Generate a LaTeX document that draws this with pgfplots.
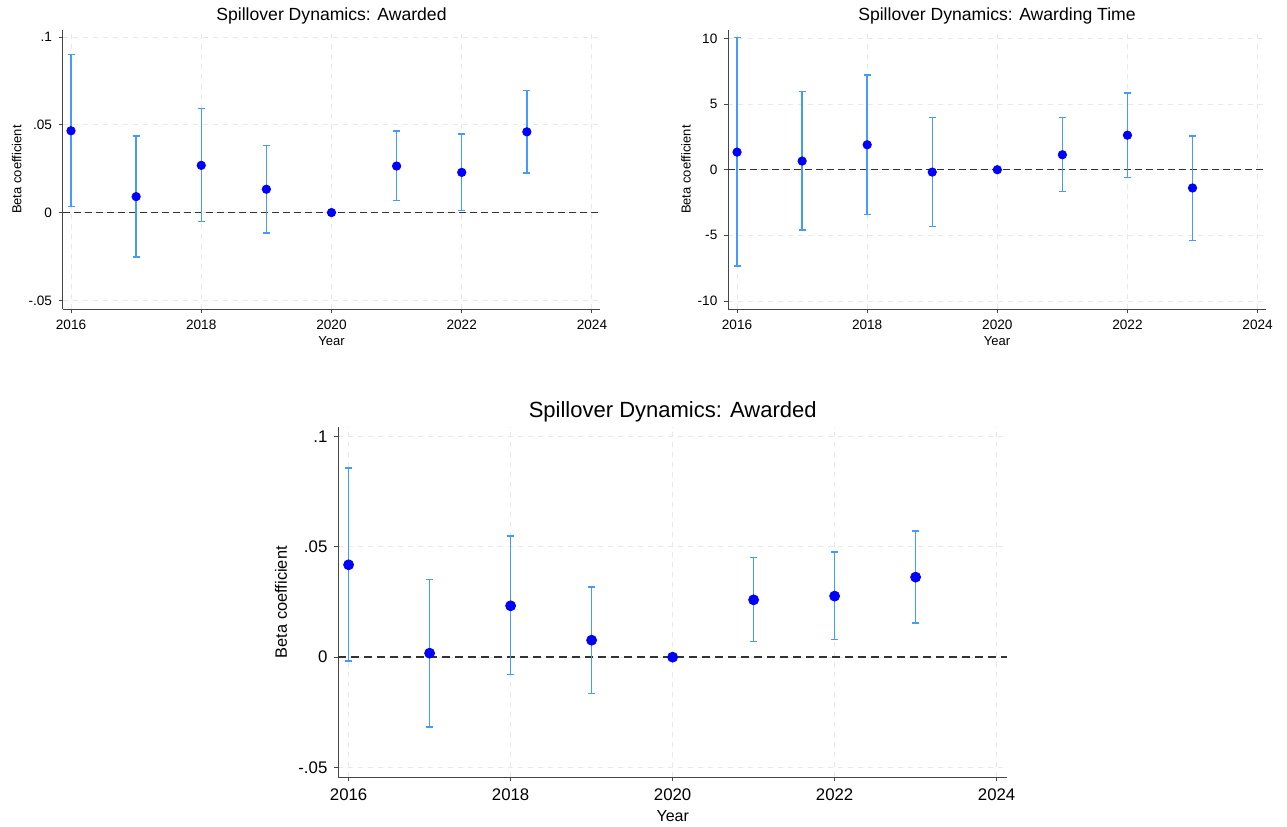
\documentclass[border=0pt]{standalone}
\usepackage{pgfplots}
\pgfplotsset{compat=1.18}
\usepackage{pgfplotstable}
\usepackage{fontspec}
\setmainfont{Liberation Sans}
\definecolor{ebc}{RGB}{70,155,250}
\definecolor{mk}{RGB}{0,0,255}
\definecolor{axc}{RGB}{70,70,70}
\definecolor{grc}{RGB}{232,232,232}

\pgfplotstableread{
year b lo hi
2016 0.0466 0.0034 0.0902
2017 0.0091 -0.0252 0.0436
2018 0.0269 -0.0051 0.0593
2019 0.0133 -0.0116 0.0383
2020 0 0 0
2021 0.0265 0.0070 0.0464
2022 0.0229 0.0013 0.0447
2023 0.0460 0.0225 0.0697
}\tA
\pgfplotstableread{
year b lo hi
2016 1.34 -7.32 10.08
2017 0.66 -4.58 5.97
2018 1.90 -3.42 7.22
2019 -0.18 -4.33 4.00
2020 0 0 0
2021 1.14 -1.65 3.97
2022 2.63 -0.58 5.85
2023 -1.39 -5.37 2.56
}\tB
\pgfplotstableread{
year b lo hi
2016 0.0419 -0.0018 0.0858
2017 0.0018 -0.0316 0.0352
2018 0.0233 -0.0079 0.0549
2019 0.0077 -0.0165 0.0319
2020 0 0 0
2021 0.0260 0.0071 0.0452
2022 0.0277 0.0080 0.0477
2023 0.0363 0.0156 0.0573
}\tC

\pgfplotsset{
  stata/.style={
    scale only axis,
    axis x line*=bottom, axis y line*=left,
    axis line style={-, draw=axc, line width=0.5pt},
    tick align=outside,
    major tick length=2pt,
    tick style={draw=axc, line width=0.5pt},
    x tick label style={/pgf/number format/1000 sep={}},
    /pgf/number format/assume math mode=true,
    xtick={2016,2018,2020,2022,2024},
    xticklabels={2016,2018,2020,2022,2024},
    grid=major,
    major grid style={draw=grc, line width=0.5pt, dash pattern=on 2.5pt off 2.5pt},
    title style={anchor=center},
    ylabel style={rotate=0, anchor=center},
    xlabel style={anchor=center},
    clip=false,
  },
}

\begin{document}
\begin{tikzpicture}
\path[use as bounding box] (0,0) rectangle (643.5pt,-413pt);

% ---------- Panel 1 ----------
\begin{axis}[stata,
  at={(31.5pt,-154.65pt)}, anchor=south west,
  width=268.5pt, height=139.65pt,
  xmin=2015.877, xmax=2024.123,
  ymin=-0.0551, ymax=0.104,
  ytick={-0.05,0,0.05,0.1},
  yticklabels={-.05,0,.05,.1},
  tick label style={font=\fontsize{6.8}{8}\selectfont},
  title={Spillover Dynamics: Awarded},
  title style={at={(axis description cs:0.5,1)}, yshift=1pt, font=\fontsize{8.8}{10}\selectfont},
  xlabel={Year},
  xlabel style={at={(axis description cs:0.5,-0.1124)}, font=\fontsize{6.5}{8}\selectfont},
  ylabel={Beta coefficient},
  ylabel style={at={(axis description cs:-0.0864,0.5)}, font=\fontsize{6.5}{8}\selectfont},
]
\addplot[draw=black!80, line width=0.6pt, dash pattern=on 3.5pt off 2pt, forget plot] coordinates {(2015.877,0) (2024.123,0)};
\addplot[draw=none, mark=none, forget plot, skip coords between index={4}{5},
  error bars/.cd, y dir=both, y explicit,
  error bar style={draw=ebc, solid, line width=0.7pt},
  error mark options={draw=ebc, rotate=90, mark size=1.75pt, line width=0.7pt, solid}]
  table[x=year, y=b, y error plus expr=\thisrow{hi}-\thisrow{b}, y error minus expr=\thisrow{b}-\thisrow{lo}] {\tA};
\addplot[only marks, mark=*, mark size=2.1pt, mark options={draw=mk, fill=mk}] table[x=year, y=b] {\tA};
\end{axis}

% ---------- Panel 2 ----------
\begin{axis}[stata,
  at={(364.2pt,-154.65pt)}, anchor=south west,
  width=268.6pt, height=139.65pt,
  xmin=2015.867, xmax=2024.123,
  ymin=-10.63, ymax=10.64,
  ytick={-10,-5,0,5,10},
  yticklabels={-10,-5,0,5,10},
  tick label style={font=\fontsize{6.8}{8}\selectfont},
  title={Spillover Dynamics: Awarding Time},
  title style={at={(axis description cs:0.5,1)}, yshift=1pt, font=\fontsize{8.8}{10}\selectfont},
  xlabel={Year},
  xlabel style={at={(axis description cs:0.5,-0.1124)}, font=\fontsize{6.5}{8}\selectfont},
  ylabel={Beta coefficient},
  ylabel style={at={(axis description cs:-0.079,0.5)}, font=\fontsize{6.5}{8}\selectfont},
]
\addplot[draw=black!80, line width=0.6pt, dash pattern=on 3.5pt off 2pt, forget plot] coordinates {(2015.867,0) (2024.123,0)};
\addplot[draw=none, mark=none, forget plot, skip coords between index={4}{5},
  error bars/.cd, y dir=both, y explicit,
  error bar style={draw=ebc, solid, line width=0.7pt},
  error mark options={draw=ebc, rotate=90, mark size=1.75pt, line width=0.7pt, solid}]
  table[x=year, y=b, y error plus expr=\thisrow{hi}-\thisrow{b}, y error minus expr=\thisrow{b}-\thisrow{lo}] {\tB};
\addplot[only marks, mark=*, mark size=2.1pt, mark options={draw=mk, fill=mk}] table[x=year, y=b] {\tB};
\end{axis}

% ---------- Panel 3 ----------
\begin{axis}[stata,
  at={(169.2pt,-388.65pt)}, anchor=south west,
  width=334.3pt, height=175.15pt,
  xmin=2015.874, xmax=2024.128,
  ymin=-0.0545, ymax=0.1044,
  ytick={-0.05,0,0.05,0.1},
  yticklabels={-.05,0,.05,.1},
  tick label style={font=\fontsize{8.4}{10}\selectfont},
  title={Spillover Dynamics: Awarded},
  title style={at={(axis description cs:0.5,1)}, yshift=1.6pt, font=\fontsize{11}{13}\selectfont},
  xlabel={Year},
  xlabel style={at={(axis description cs:0.5,-0.110)}, font=\fontsize{8}{10}\selectfont},
  ylabel={Beta coefficient},
  ylabel style={at={(axis description cs:-0.0859,0.5)}, font=\fontsize{8.2}{10}\selectfont},
]
\addplot[draw=black!80, line width=0.7pt, dash pattern=on 4pt off 2.5pt, forget plot] coordinates {(2015.874,0) (2024.128,0)};
\addplot[draw=none, mark=none, forget plot, skip coords between index={4}{5},
  error bars/.cd, y dir=both, y explicit,
  error bar style={draw=ebc, solid, line width=0.75pt},
  error mark options={draw=ebc, rotate=90, mark size=1.75pt, line width=0.75pt, solid}]
  table[x=year, y=b, y error plus expr=\thisrow{hi}-\thisrow{b}, y error minus expr=\thisrow{b}-\thisrow{lo}] {\tC};
\addplot[only marks, mark=*, mark size=2.5pt, mark options={draw=mk, fill=mk}] table[x=year, y=b] {\tC};
\end{axis}
\end{tikzpicture}
\end{document}
